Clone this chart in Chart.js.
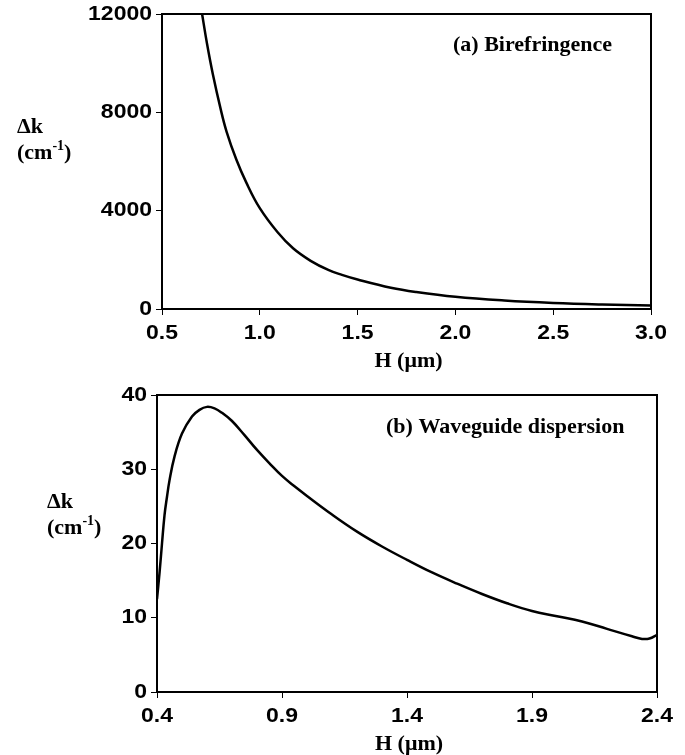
<!DOCTYPE html>
<html>
<head>
<meta charset="utf-8">
<script src="https://cdn.jsdelivr.net/npm/chart.js@4.4.0/dist/chart.umd.min.js"></script>
<style>
  html, body { margin: 0; padding: 0; background: #fff; }
  #wrap { position: relative; width: 685px; height: 755px; }
  .panel { position: absolute; left: 0; width: 685px; }
  #panelA { top: 0; height: 375px; }
  #panelB { top: 375px; height: 380px; }
</style>
</head>
<body>
<div id="wrap">
  <div class="panel" id="panelA"><canvas id="chartA"></canvas></div>
  <div class="panel" id="panelB"><canvas id="chartB"></canvas></div>
</div>
<script>
// (a) Birefringence: H (um) vs delta k (cm-1)
const hA = [0.705, 0.73, 0.76, 0.80, 0.83, 0.88, 0.93, 1.00, 1.09, 1.17, 1.26, 1.35, 1.42, 1.50, 1.67, 1.80, 2.00, 2.25, 2.50, 2.75, 3.00];
const dkA = [12000, 10800, 9550, 8130, 7220, 6080, 5160, 4100, 3130, 2470, 1960, 1590, 1390, 1200, 865, 690, 495, 345, 246, 184, 144];
const xTicksA = [0.5, 1.0, 1.5, 2.0, 2.5, 3.0];
const yTicksA = [0, 4000, 8000, 12000];

// (b) Waveguide dispersion
const hB = [0.40, 0.41, 0.42, 0.43, 0.44, 0.45, 0.47, 0.50, 0.54, 0.57, 0.60, 0.63, 0.66, 0.70, 0.75, 0.80, 0.85, 0.90, 0.95, 1.00, 1.10, 1.20, 1.30, 1.40, 1.50, 1.60, 1.70, 1.80, 1.90, 2.00, 2.10, 2.20, 2.30, 2.34, 2.37, 2.40];
const dkB = [12.5, 16.0, 20.0, 23.8, 26.3, 28.5, 31.7, 34.8, 37.1, 38.0, 38.4, 38.2, 37.6, 36.5, 34.6, 32.6, 30.8, 29.1, 27.7, 26.4, 23.9, 21.6, 19.6, 17.8, 16.1, 14.6, 13.2, 11.95, 10.9, 10.2, 9.5, 8.5, 7.5, 7.15, 7.2, 7.7];
const xTicksB = [0.4, 0.9, 1.4, 1.9, 2.4];
const yTicksB = [0, 10, 20, 30, 40];

const SANS = '"Liberation Sans", Arial, sans-serif';
const SERIF = '"Liberation Serif", "Times New Roman", serif';

// the original figure's digits are wider than Arial, so text is drawn scaled
function drawStretched(ctx, text, x, y, sx, align, baseline) {
  ctx.save();
  ctx.translate(x, y);
  ctx.scale(sx, 1);
  ctx.textAlign = align;
  ctx.textBaseline = baseline;
  ctx.fillText(text, 0, 0);
  ctx.restore();
}

const figurePlugin = {
  id: 'figure',
  beforeDatasetsDraw(chart) {
    const {ctx, chartArea: a} = chart;
    ctx.save();
    ctx.strokeStyle = '#000';
    ctx.lineWidth = 2;
    ctx.strokeRect(a.left, a.top, a.right - a.left, a.bottom - a.top);
    ctx.restore();
  },
  afterDraw(chart, args, opts) {
    const {ctx, chartArea: a, scales} = chart;
    ctx.save();
    ctx.fillStyle = '#000';

    // tick labels
    ctx.font = 'bold 20px ' + SANS;
    scales.x.ticks.forEach(t => {
      drawStretched(ctx, t.value.toFixed(1), scales.x.getPixelForValue(t.value), a.bottom + 24, 1.15, 'center', 'middle');
    });
    scales.y.ticks.forEach(t => {
      drawStretched(ctx, String(t.value), a.left - 10, scales.y.getPixelForValue(t.value), 1.15, 'right', 'middle');
    });

    // x title
    ctx.font = 'bold 22px ' + SERIF;
    ctx.textAlign = 'center';
    ctx.textBaseline = 'alphabetic';
    ctx.fillText('H (\u03bcm)', (a.left + a.right) / 2 + 2, a.bottom + 58);

    // y title, horizontal with superscript
    ctx.textAlign = 'left';
    const yx = opts.yTitleX;
    ctx.fillText('\u0394k', yx, 133);
    let cx = yx;
    ctx.fillText('(cm', cx, 159);
    cx += ctx.measureText('(cm').width;
    ctx.font = 'bold 14px ' + SERIF;
    ctx.fillText('-1', cx, 150);
    cx += ctx.measureText('-1').width;
    ctx.font = 'bold 22px ' + SERIF;
    ctx.fillText(')', cx, 159);

    // panel label
    ctx.fillText(opts.label, opts.labelX, opts.labelY);
    ctx.restore();
  }
};

function makeChart(canvas, h, dk, xTicks, yTicks, fig) {
  return new Chart(canvas, {
    type: 'line',
    data: {
      datasets: [{
        data: h.map((v, i) => ({x: v, y: dk[i]})),
        borderColor: '#000',
        borderWidth: 2.5,
        pointRadius: 0,
        fill: false,
        tension: 0.4
      }]
    },
    options: {
      responsive: true,
      maintainAspectRatio: false,
      animation: false,
      layout: { padding: { left: 0, right: fig.padRight, top: fig.padTop, bottom: 0 } },
      plugins: {
        legend: { display: false },
        tooltip: { enabled: false },
        figure: fig
      },
      scales: {
        x: {
          type: 'linear',
          min: xTicks[0],
          max: xTicks[xTicks.length - 1],
          afterBuildTicks: s => { s.ticks = xTicks.map(v => ({value: v})); },
          afterFit: s => { s.height = fig.xAxisH; },
          ticks: { display: false },
          border: { display: false },
          grid: { drawOnChartArea: false, drawTicks: true, tickLength: 6, color: '#000', lineWidth: 1 }
        },
        y: {
          min: yTicks[0],
          max: yTicks[yTicks.length - 1],
          afterBuildTicks: s => { s.ticks = yTicks.map(v => ({value: v})); },
          afterFit: s => { s.width = fig.yAxisW; },
          ticks: { display: false },
          border: { display: false },
          grid: { drawOnChartArea: false, drawTicks: true, tickLength: 6, color: '#000', lineWidth: 1 }
        }
      }
    },
    plugins: [figurePlugin]
  });
}

makeChart(document.getElementById('chartA'), hA, dkA, xTicksA, yTicksA, {
  padRight: 34, padTop: 14, yAxisW: 162, xAxisH: 66,
  yTitleX: 17, label: '(a) Birefringence', labelX: 453, labelY: 51
});

makeChart(document.getElementById('chartB'), hB, dkB, xTicksB, yTicksB, {
  padRight: 28, padTop: 20, yAxisW: 157, xAxisH: 63,
  yTitleX: 47, label: '(b) Waveguide dispersion', labelX: 386, labelY: 58
});
</script>
</body>
</html>
